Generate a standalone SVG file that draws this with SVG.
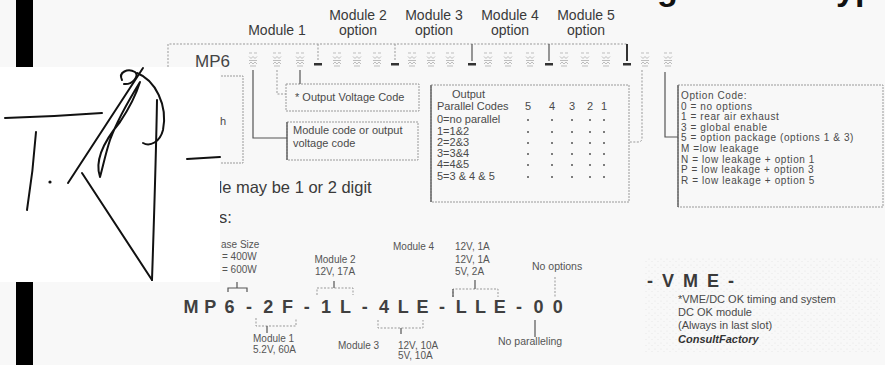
<svg xmlns="http://www.w3.org/2000/svg" width="885" height="365" viewBox="0 0 885 365">
<style>
text{font-family:"Liberation Sans",Arial,Helvetica,sans-serif}
.lbl{font-size:14px;fill:#3a3a3a}
.sm{font-size:11px;fill:#4a4a4a}
.op{font-size:10px;fill:#4a4a4a;letter-spacing:0.6px}
.tn{font-size:10px;fill:#555}
.code{font-size:18px;font-weight:bold;fill:#404040}
.big{font-size:34px;font-weight:bold;fill:#111}
.box{fill:none;stroke:#9a9a9a;stroke-width:1;stroke-dasharray:2 1}
.dot{fill:none;stroke:#999;stroke-width:1;stroke-dasharray:2 1.5}
.sol{fill:none;stroke:#555;stroke-width:1.2}
.dash{fill:#333}
.sig{fill:none;stroke:#111;stroke-width:2;stroke-linecap:round;stroke-linejoin:round}
</style>
<defs>
<g id="ph" fill="none" stroke="#bdbdbd" stroke-width="1">
<path d="M-4,-7h3M1,-7h3M-4,-3.5l2,2l2,-2l2,2l2,-2M-4,0.5h8M-4,4l2,-2l2,2l2,-2l2,2M-3,6h6"/>
</g>
<pattern id="speck" width="6" height="6" patternUnits="userSpaceOnUse">
<circle cx="1" cy="1" r="0.5" fill="#d2d2d2"/>
<circle cx="4" cy="3.5" r="0.5" fill="#dadada"/>
</pattern>
</defs>
<rect width="885" height="365" fill="#f8f8f8"/>
<rect x="645" y="258" width="235" height="94" fill="url(#speck)" opacity="0.7"/>

<g id="title">
<text class="big" x="657" y="0">g</text>
<text class="big" x="836" y="0">yp</text>
</g>

<g id="module-labels">
<text class="lbl" x="277" y="35" text-anchor="middle">Module 1</text>
<text class="lbl" x="358" y="20" text-anchor="middle">Module 2</text>
<text class="lbl" x="358" y="35" text-anchor="middle">option</text>
<text class="lbl" x="434" y="20" text-anchor="middle">Module 3</text>
<text class="lbl" x="434" y="35" text-anchor="middle">option</text>
<text class="lbl" x="510" y="20" text-anchor="middle">Module 4</text>
<text class="lbl" x="510" y="35" text-anchor="middle">option</text>
<text class="lbl" x="586" y="20" text-anchor="middle">Module 5</text>
<text class="lbl" x="586" y="35" text-anchor="middle">option</text>
</g>

<g id="code-row">
<text x="195" y="67" style="font-size:17px;fill:#444">MP6</text>
<use href="#ph" x="253" y="60"/><use href="#ph" x="277" y="60"/><use href="#ph" x="300" y="60"/>
<use href="#ph" x="337" y="60"/><use href="#ph" x="357" y="60"/><use href="#ph" x="377" y="60"/>
<use href="#ph" x="412" y="60"/><use href="#ph" x="431" y="60"/><use href="#ph" x="450" y="60"/>
<use href="#ph" x="488" y="60"/><use href="#ph" x="508" y="60"/><use href="#ph" x="530" y="60"/>
<use href="#ph" x="564" y="60"/><use href="#ph" x="585" y="60"/><use href="#ph" x="606" y="60"/>
<use href="#ph" x="645" y="60"/><use href="#ph" x="668" y="60"/>
<rect class="dash" x="314" y="63" width="8" height="2.5"/>
<rect class="dash" x="391" y="63" width="8" height="2.5"/>
<rect class="dash" x="468" y="63" width="8" height="2.5"/>
<rect class="dash" x="545" y="63" width="8" height="2.5"/>
<rect class="dash" x="623" y="63" width="8" height="2.5"/>
</g>

<g id="left-box">
<path class="box" d="M200,76H243V163H200"/>
<text class="sm" x="220" y="125">h</text>
</g>

<g id="output-voltage-box">
<rect class="box" x="286" y="84" width="133" height="27"/>
<text class="sm" x="295" y="101">* Output Voltage Code</text>
</g>

<g id="module-code-box">
<rect class="box" x="287" y="122" width="131" height="38"/>
<path d="M287,122V160" stroke="#666" stroke-width="1.5"/>
<text class="sm" x="293" y="134">Module code or output</text>
<text class="sm" x="293" y="147">voltage code</text>
</g>

<g id="parallel-box">
<rect class="box" x="431" y="85" width="198" height="117"/>
<path d="M431,85V202" stroke="#666" stroke-width="1.5"/>
<text class="sm" x="452" y="98">Output</text>
<text class="sm" x="437" y="110">Parallel Codes</text>
<g class="sm" text-anchor="middle">
<text x="528" y="110">5</text><text x="552" y="110">4</text><text x="572" y="110">3</text><text x="590" y="110">2</text><text x="604" y="110">1</text>
</g>
<text class="sm" x="437" y="123">0=no parallel</text>
<text class="sm" x="437" y="135">1=1&amp;2</text>
<text class="sm" x="437" y="146">2=2&amp;3</text>
<text class="sm" x="437" y="157">3=3&amp;4</text>
<text class="sm" x="437" y="168">4=4&amp;5</text>
<text class="sm" x="437" y="180">5=3 &amp; 4 &amp; 5</text>
<g fill="#555">
<circle cx="528" cy="120" r="1"/><circle cx="552" cy="120" r="1"/><circle cx="572" cy="120" r="1"/><circle cx="590" cy="120" r="1"/><circle cx="604" cy="120" r="1"/>
<circle cx="528" cy="132" r="1"/><circle cx="552" cy="132" r="1"/><circle cx="572" cy="132" r="1"/><circle cx="590" cy="132" r="1"/><circle cx="604" cy="132" r="1"/>
<circle cx="528" cy="143" r="1"/><circle cx="552" cy="143" r="1"/><circle cx="572" cy="143" r="1"/><circle cx="590" cy="143" r="1"/><circle cx="604" cy="143" r="1"/>
<circle cx="528" cy="154" r="1"/><circle cx="552" cy="154" r="1"/><circle cx="572" cy="154" r="1"/><circle cx="590" cy="154" r="1"/><circle cx="604" cy="154" r="1"/>
<circle cx="528" cy="165" r="1"/><circle cx="552" cy="165" r="1"/><circle cx="572" cy="165" r="1"/><circle cx="590" cy="165" r="1"/><circle cx="604" cy="165" r="1"/>
<circle cx="528" cy="177" r="1"/><circle cx="552" cy="177" r="1"/><circle cx="572" cy="177" r="1"/><circle cx="590" cy="177" r="1"/><circle cx="604" cy="177" r="1"/>
</g>
</g>

<g id="option-box">
<rect class="box" x="678" y="85" width="205" height="122"/>
<path d="M678,85V207" stroke="#666" stroke-width="1.5"/>
<text class="op" x="681" y="99">Option Code:</text>
<text class="op" x="681" y="109.6">0 = no options</text>
<text class="op" x="681" y="120.2">1 = rear air exhaust</text>
<text class="op" x="681" y="130.8">3 = global enable</text>
<text class="op" x="681" y="141.4">5 = option package (options 1 &amp; 3)</text>
<text class="op" x="681" y="152">M =low leakage</text>
<text class="op" x="681" y="162.6">N = low leakage + option 1</text>
<text class="op" x="681" y="173.2">P = low leakage + option 3</text>
<text class="op" x="681" y="183.8">R = low leakage + option 5</text>
</g>

<g id="digit-note">
<text x="213" y="193" style="font-size:16.5px;fill:#3a3a3a">de may be 1 or 2 digit</text>
<text x="219" y="223" style="font-size:16.5px;fill:#3a3a3a">s:</text>
</g>

<g id="example-code">
<text class="code" text-anchor="middle" x="191 200.6 210.3 219.9 229.6 239.2 248.9 258.5 268.2 277.8 287.5 297.1 306.8 316.4 326.1 335.7 345.4 355 364.7 374.3 384 393.6 403.3 412.9 422.6 432.2 441.9 451.5 461.2 470.8 480.5 490.1 499.8 509.4 519.1 528.7 538.4 548 557.7" y="313">M P 6 - 2 F - 1 L - 4 L E - L L E - 0 0</text>
</g>

<g id="case-size">
<text class="tn" x="221" y="248">ase Size</text>
<text class="tn" x="222" y="260">= 400W</text>
<text class="tn" x="222" y="273">= 600W</text>
</g>
<g id="mod1-note">
<text class="tn" x="253" y="342">Module 1</text>
<text class="tn" x="253" y="353">5.2V, 60A</text>
</g>
<g id="mod2-note">
<text class="tn" x="335" y="263" text-anchor="middle">Module 2</text>
<text class="tn" x="335" y="275" text-anchor="middle">12V, 17A</text>
</g>
<g id="mod3-note">
<text class="tn" x="338" y="349">Module 3</text>
<text class="tn" x="398" y="349">12V, 10A</text>
<text class="tn" x="398" y="359">5V, 10A</text>
</g>
<g id="mod4-note">
<text class="tn" x="393" y="250">Module 4</text>
<text class="tn" x="455" y="250">12V, 1A</text>
<text class="tn" x="455" y="263">12V, 1A</text>
<text class="tn" x="455" y="275">5V, 2A</text>
</g>
<g id="no-options">
<text class="tn" x="532" y="270" style="font-size:10.5px">No options</text>
</g>
<g id="no-paralleling">
<text class="tn" x="498" y="345" style="font-size:10.5px">No paralleling</text>
</g>

<g id="vme">
<text x="647" y="287" style="font-size:18px;font-weight:bold;fill:#3a3a3a;letter-spacing:2px">- V M E -</text>
<text class="sm" x="678" y="303">*VME/DC OK timing and system</text>
<text class="sm" x="678" y="316">DC OK module</text>
<text class="sm" x="678" y="329">(Always in last slot)</text>
<text class="sm" x="678" y="343" style="font-weight:bold;font-style:italic;fill:#333">ConsultFactory</text>
</g>

<g id="connectors">
<path class="dot" d="M168,67V44H627"/>
<path class="dot" d="M318,44V61M395,44V61"/>
<path class="sol" d="M472,44V61M549,44V61" stroke="#777"/>
<path d="M627,44V61" stroke="#333" stroke-width="2" fill="none"/>
<path class="sol" d="M253,70V138H287"/>
<path class="dot" d="M277,70V94H286"/>
<path class="sol" d="M300,70V84"/>
<path class="dot" d="M642,70V138Q642,142 638,142H629"/>
<path class="sol" d="M665,72V137H678"/>
<path class="sol" d="M228,292V288H247V292M237,288V282" stroke="#777"/>
<path class="dot" d="M256,318V326H296V318"/>
<path class="sol" d="M267,326V333" stroke="#777"/>
<path class="dot" d="M317,295V288H353V295"/>
<path class="sol" d="M334,288V281" stroke="#777"/>
<path class="dot" d="M378,320V328H423V320"/>
<path class="sol" d="M401,328V334" stroke="#777"/>
<path class="dot" d="M453,297V289H498V297"/>
<path class="sol" d="M475,289V280M453,289V297" stroke="#777"/>
<path class="dot" d="M555,277V297"/>
<path class="sol" d="M535,320V337" stroke="#777"/>
</g>

<g id="signature">
<rect x="0" y="67" width="220" height="215" fill="#ffffff"/>
<path class="sig" d="M5,118C40,117 75,115 102,113"/>
<path class="sig" d="M36,132C34,160 31,185 27,210"/>
<circle cx="50" cy="182" r="1.6" fill="#111"/>
<path class="sig" d="M68,183L143,68"/>
<path class="sig" d="M100,177C94,160 105,140 120,122C128,110 136,95 140,82C132,95 118,118 110,140C106,152 103,166 100,177"/>
<path class="sig" d="M122,80C118,72 128,68 135,72C140,76 132,85 124,84"/>
<path class="sig" d="M137,73C155,80 168,105 163,130C160,142 150,147 143,143"/>
<path class="sig" d="M157,100C156,160 154,220 152,280"/>
<path class="sig" d="M82,173L152,280"/>
<path class="sig" d="M187,159L220,157" stroke-width="3"/>
</g>

<g id="bars">
<rect x="16" y="0" width="17" height="67" fill="#000"/>
<rect x="16" y="282" width="17" height="83" fill="#000"/>
</g>
</svg>
